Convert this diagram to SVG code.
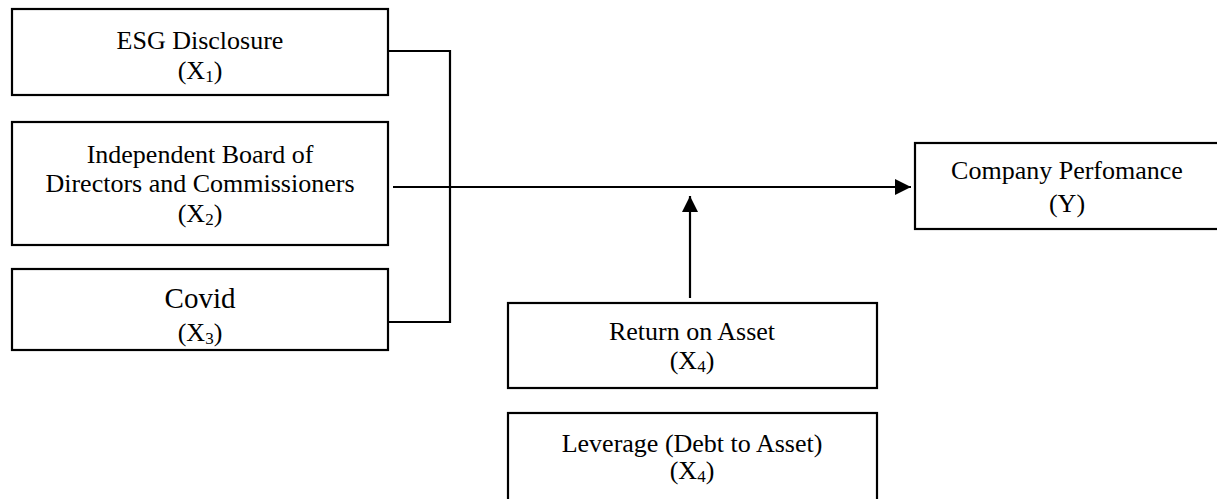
<svg xmlns="http://www.w3.org/2000/svg" width="1217" height="499" viewBox="0 0 1217 499">
<style>
.box{fill:#fff;stroke:#000;stroke-width:2.2}
.t{font-family:"Liberation Serif","Times New Roman",serif;font-size:26px;fill:#000;text-anchor:middle}
.big{font-size:29px}
.sub{font-size:17px}
.ln{fill:none;stroke:#000;stroke-width:2.2}
</style>
<defs>
<marker id="ah" markerWidth="16" markerHeight="16" refX="16" refY="8" orient="auto" markerUnits="userSpaceOnUse">
<path d="M0,0 L16,8 L0,16 Z" fill="#000"/>
</marker>
</defs>
<rect width="1217" height="499" fill="#fff"/>
<g id="connectors">
<path class="ln" d="M388,51 H450 V322 H388"/>
<path class="ln" d="M393,187 H911" marker-end="url(#ah)"/>
<path class="ln" d="M690,298 V196" marker-end="url(#ah)"/>
</g>
<g id="x1">
<rect class="box" x="12" y="9" width="376" height="86"/>
<text class="t" x="200" y="49">ESG Disclosure</text>
<text class="t" x="200" y="79">(X<tspan class="sub" dy="3">1</tspan><tspan dy="-3">)</tspan></text>
</g>
<g id="x2">
<rect class="box" x="12" y="122" width="376" height="123"/>
<text class="t" x="200" y="163">Independent Board of</text>
<text class="t" x="200" y="192">Directors and Commissioners</text>
<text class="t" x="200" y="222">(X<tspan class="sub" dy="3">2</tspan><tspan dy="-3">)</tspan></text>
</g>
<g id="x3">
<rect class="box" x="12" y="269" width="376" height="81"/>
<text class="t big" x="200" y="308">Covid</text>
<text class="t" x="200" y="341">(X<tspan class="sub" dy="3">3</tspan><tspan dy="-3">)</tspan></text>
</g>
<g id="y">
<rect class="box" x="915" y="143" width="304" height="86"/>
<text class="t" x="1067" y="179">Company Perfomance</text>
<text class="t" x="1067" y="212">(Y)</text>
</g>
<g id="x4roa">
<rect class="box" x="508" y="303" width="369" height="85"/>
<text class="t" x="692" y="340">Return on Asset</text>
<text class="t" x="692" y="369">(X<tspan class="sub" dy="3">4</tspan><tspan dy="-3">)</tspan></text>
</g>
<g id="x4lev">
<rect class="box" x="508" y="413" width="369" height="90"/>
<text class="t" x="692" y="452">Leverage (Debt to Asset)</text>
<text class="t" x="692" y="479">(X<tspan class="sub" dy="3">4</tspan><tspan dy="-3">)</tspan></text>
</g>
</svg>
